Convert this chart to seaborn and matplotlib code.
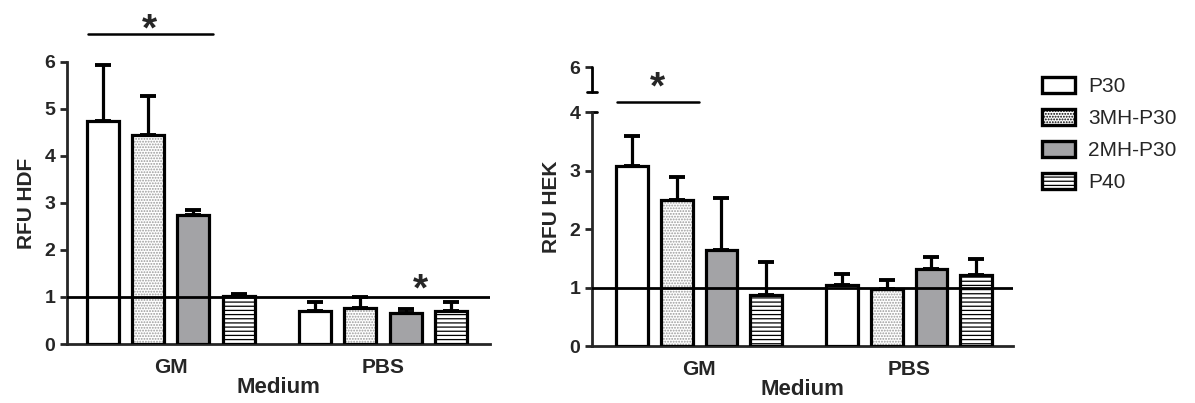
import matplotlib
matplotlib.use("Agg")
import matplotlib.pyplot as plt
import matplotlib.transforms as mtransforms
import pandas as pd
import seaborn as sns

# Dados
media = ["GM", "PBS"]
groups = ["P30", "3MH-P30", "2MH-P30", "P40"]

hdf_gm = [4.75, 4.45, 2.74, 1.03]
hdf_pbs = [0.70, 0.76, 0.66, 0.70]
hdf_err_gm = [1.19, 0.83, 0.11, 0.03]
hdf_err_pbs = [0.19, 0.24, 0.09, 0.19]

hek_gm = [3.08, 2.50, 1.64, 0.87]
hek_pbs = [1.04, 0.97, 1.32, 1.21]
hek_err_gm = [0.52, 0.39, 0.89, 0.57]
hek_err_pbs = [0.19, 0.16, 0.20, 0.28]

fills = {"P30": "white", "3MH-P30": "white", "2MH-P30": "#a3a3a6", "P40": "white"}
hatches = {"P30": "", "3MH-P30": "......", "2MH-P30": "", "P40": "----"}
hatch_cols = {"P30": "black", "3MH-P30": "#9a9a9a", "2MH-P30": "black", "P40": "black"}

sns.set_style("ticks")
plt.rcParams["font.family"] = ["Liberation Sans", "DejaVu Sans"]
plt.rcParams["hatch.linewidth"] = 0.9


def make_df(gm, pbs, err_gm, err_pbs):
    rows = []
    for m, vals, errs in [("GM", gm, err_gm), ("PBS", pbs, err_pbs)]:
        for g, v, e in zip(groups, vals, errs):
            rows.append({"Medium": m, "group": g, "value": v, "err": e})
    return pd.DataFrame(rows)


def draw_panel(ax, df, ylabel):
    sns.barplot(data=df, x="Medium", y="value", hue="group", order=media,
                hue_order=groups, width=0.85, gap=0.29, errorbar=None,
                legend=False, ax=ax)
    for cont, g in zip(ax.containers, groups):
        sub = df[df["group"] == g].set_index("Medium").loc[media]
        for patch, err in zip(cont.patches, sub["err"]):
            patch.set_facecolor(fills[g])
            patch.set_hatch(hatches[g])
            patch.set_edgecolor(hatch_cols[g])
            patch.set_linewidth(0)
            # contorno preto por cima
            ax.add_patch(plt.Rectangle((patch.get_x(), 0), patch.get_width(),
                                       patch.get_height(), fill=False,
                                       edgecolor="black", linewidth=2.3, zorder=3))
            xc = patch.get_x() + patch.get_width() / 2
            ax.errorbar(xc, patch.get_height(), yerr=[[0], [err]], color="black",
                        elinewidth=2.3, capsize=6, capthick=2.8, zorder=2)
    ax.axhline(1, color="black", linewidth=2, zorder=4)
    ax.set_ylabel(ylabel, fontsize=15, fontweight="bold", labelpad=6)
    ax.set_xlabel("Medium", fontsize=16, fontweight="bold", labelpad=0)
    ax.tick_params(axis="both", width=2, length=5, labelsize=14)
    ax.tick_params(axis="x", length=0, pad=10, labelsize=15)
    for lab in ax.get_xticklabels() + ax.get_yticklabels():
        lab.set_fontweight("bold")
    for sp in ["left", "bottom"]:
        ax.spines[sp].set_linewidth(2)
    sns.despine(ax=ax)


fig = plt.figure(figsize=(11.95, 4.03), dpi=100)
ax1 = fig.add_axes([0.0561, 0.1464, 0.354, 0.6998])
ax2 = fig.add_axes([0.4954, 0.1414, 0.3523, 0.692])

# Painel HDF
draw_panel(ax1, make_df(hdf_gm, hdf_pbs, hdf_err_gm, hdf_err_pbs), "RFU HDF")
ax1.set_ylim(0, 6)
ax1.set_xlim(-0.49, 1.505)
ax1.set_yticks([0, 1, 2, 3, 4, 5, 6])
ax1.plot([-0.39, 0.2], [6.6, 6.6], color="black", linewidth=1.8, clip_on=False)
ax1.text(-0.1, 7.05, "*", ha="center", va="top", fontsize=28, fontweight="bold")
ax1.text(1.175, 1.52, "*", ha="center", va="top", fontsize=28, fontweight="bold")

# Painel HEK (eixo interrompido entre 4 e 6)
draw_panel(ax2, make_df(hek_gm, hek_pbs, hek_err_gm, hek_err_pbs), "RFU HEK")
ax2.set_ylim(0, 4.77)
ax2.set_xlim(-0.51, 1.495)
ax2.spines["left"].set_bounds(0, 4)
ax2.set_yticks([0, 1, 2, 3, 4, 4.77])
ax2.set_yticklabels(["0", "1", "2", "3", "4", "6"], fontweight="bold")
trans = mtransforms.blended_transform_factory(ax2.transAxes, ax2.transData)
ax2.plot([0, 0], [4.34, 4.77], color="black", linewidth=2, transform=trans,
         clip_on=False)
ax2.plot([-0.012, 0.012], [4.34, 4.34], color="black", linewidth=2,
         transform=trans, clip_on=False)
ax2.plot([0, 0.012], [4.0, 4.0], color="black", linewidth=2,
         transform=trans, clip_on=False)
ax2.plot([-0.39, 0.0], [4.17, 4.17], color="black", linewidth=1.8, clip_on=False)
ax2.text(-0.2, 4.72, "*", ha="center", va="top", fontsize=28, fontweight="bold")

# Legenda
handles = [plt.Rectangle((0, 0), 1, 1, facecolor=fills[g], hatch=hatches[g],
                         edgecolor="black", linewidth=2.4) for g in groups]
fig.legend(handles, groups, loc="upper left", bbox_to_anchor=(0.865, 0.83),
           frameon=False, fontsize=15, handlelength=1.6, handleheight=0.8,
           labelspacing=0.62, handletextpad=0.6, borderaxespad=0)

fig.savefig("out.png", dpi=100)
